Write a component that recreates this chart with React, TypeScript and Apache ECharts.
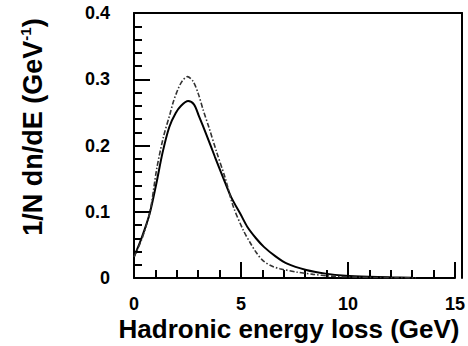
import React, { useEffect, useRef } from "react";
import * as echarts from "echarts";

// Solid curve
const solidX = [0, 0.35, 0.73, 1.04, 1.34, 1.65, 1.95, 2.2, 2.53, 2.8, 3.02, 3.4, 3.78, 4.16, 4.54, 5.0, 5.3, 5.7, 6.07, 6.6, 7.13, 8.05, 8.96, 9.88, 11, 12, 13];
const solidY = [0.032, 0.06, 0.097, 0.142, 0.19, 0.228, 0.249, 0.26, 0.267, 0.262, 0.2456, 0.215, 0.183, 0.152, 0.122, 0.095, 0.077, 0.06, 0.047, 0.033, 0.022, 0.012, 0.0066, 0.0035, 0.0018, 0.001, 0.0005];

// Dash-dot curve
const dashX = [0, 0.35, 0.73, 1.04, 1.34, 1.65, 1.8, 2.0, 2.2, 2.44, 2.7, 2.94, 3.17, 3.44, 3.78, 4.16, 4.54, 5.0, 5.3, 5.6, 5.91, 6.3, 6.67, 7.43, 8.2, 8.96, 10, 11, 12, 12.9];
const dashY = [0.032, 0.058, 0.1, 0.165, 0.212, 0.248, 0.266, 0.284, 0.297, 0.304, 0.297, 0.278, 0.253, 0.226, 0.19, 0.152, 0.108, 0.072, 0.054, 0.038, 0.026, 0.018, 0.014, 0.009, 0.0055, 0.003, 0.0015, 0.0008, 0.0004, 0.0002];

const xTitle = "Hadronic energy loss (GeV)";
const yTitleMain = "1/N dn/dE (GeV";
const yTitleSup = "-1";

const FONT = "Liberation Sans, Arial, sans-serif";

export default function App() {
  const ref = useRef<HTMLDivElement>(null);
  useEffect(() => {
    if (!ref.current) return;
    const chart = echarts.init(ref.current, undefined, { renderer: "svg" });
    const solid = solidX.map((x, i) => [x, solidY[i]]);
    const dash = dashX.map((x, i) => [x, dashY[i]]);
    const labelStyle = { fontSize: 18, fontWeight: "bold", color: "#000", fontFamily: FONT };
    const box = { left: 134, top: 13, width: 328, height: 265, show: false };
    chart.setOption({
      animation: false,
      backgroundColor: "#fff",
      grid: [{ ...box }, { ...box }],
      xAxis: [
        {
          gridIndex: 0,
          type: "value", min: 0, max: 15, interval: 5,
          axisLine: { show: true, lineStyle: { color: "#000", width: 2 } },
          axisTick: { show: true, inside: true, length: 16, lineStyle: { color: "#000", width: 2 } },
          minorTick: { show: true, splitNumber: 5, length: 8, lineStyle: { color: "#000", width: 2 } },
          splitLine: { show: false },
          axisLabel: { ...labelStyle, margin: 17 },
        },
        {
          gridIndex: 1,
          type: "value", min: 0, max: 15, position: "top",
          axisLine: { show: true, onZero: false, lineStyle: { color: "#000", width: 2 } },
          axisTick: { show: false },
          axisLabel: { show: false },
          splitLine: { show: false },
        },
      ],
      yAxis: [
        {
          gridIndex: 0,
          type: "value", min: 0, max: 0.4, interval: 0.1,
          axisLine: { show: true, lineStyle: { color: "#000", width: 2 } },
          axisTick: { show: true, inside: true, length: 16, lineStyle: { color: "#000", width: 2 } },
          minorTick: { show: true, splitNumber: 5, length: 8, lineStyle: { color: "#000", width: 2 } },
          splitLine: { show: false },
          axisLabel: { ...labelStyle, margin: 24 },
        },
        {
          gridIndex: 1,
          type: "value", min: 0, max: 0.4, position: "right",
          axisLine: { show: true, onZero: false, lineStyle: { color: "#000", width: 2 } },
          axisTick: { show: false },
          axisLabel: { show: false },
          splitLine: { show: false },
        },
      ],
      graphic: [
        {
          type: "text",
          x: 289,
          y: 329,
          style: {
            text: xTitle,
            fontSize: 26,
            fontWeight: "bold",
            fontFamily: FONT,
            fill: "#000",
            align: "center",
            verticalAlign: "middle",
          },
        },
        {
          type: "text",
          x: 33,
          y: 127,
          rotation: Math.PI / 2,
          style: {
            text: `{a|${yTitleMain}}{b|${yTitleSup}}{a|)}`,
            fill: "#000",
            align: "center",
            verticalAlign: "middle",
            rich: {
              a: { fontSize: 27, fontWeight: "bold", fontFamily: FONT, fill: "#000", lineHeight: 30 },
              b: { fontSize: 15, fontWeight: "bold", fontFamily: FONT, fill: "#000", verticalAlign: "top", lineHeight: 30 },
            },
          },
        },
      ],
      series: [
        {
          type: "line",
          xAxisIndex: 0,
          yAxisIndex: 0,
          data: solid,
          showSymbol: false,
          smooth: 0.3,
          lineStyle: { color: "#000", width: 2 },
        },
        {
          type: "line",
          xAxisIndex: 1,
          yAxisIndex: 1,
          data: dash,
          showSymbol: false,
          smooth: 0.3,
          lineStyle: { color: "#333", width: 1.6, type: [5, 2, 1.5, 2] },
        },
      ],
    });
    return () => chart.dispose();
  }, []);
  return (
    <div
      ref={ref}
      style={{ position: "fixed", left: 0, top: 0, width: 468, height: 346 }}
    />
  );
}
